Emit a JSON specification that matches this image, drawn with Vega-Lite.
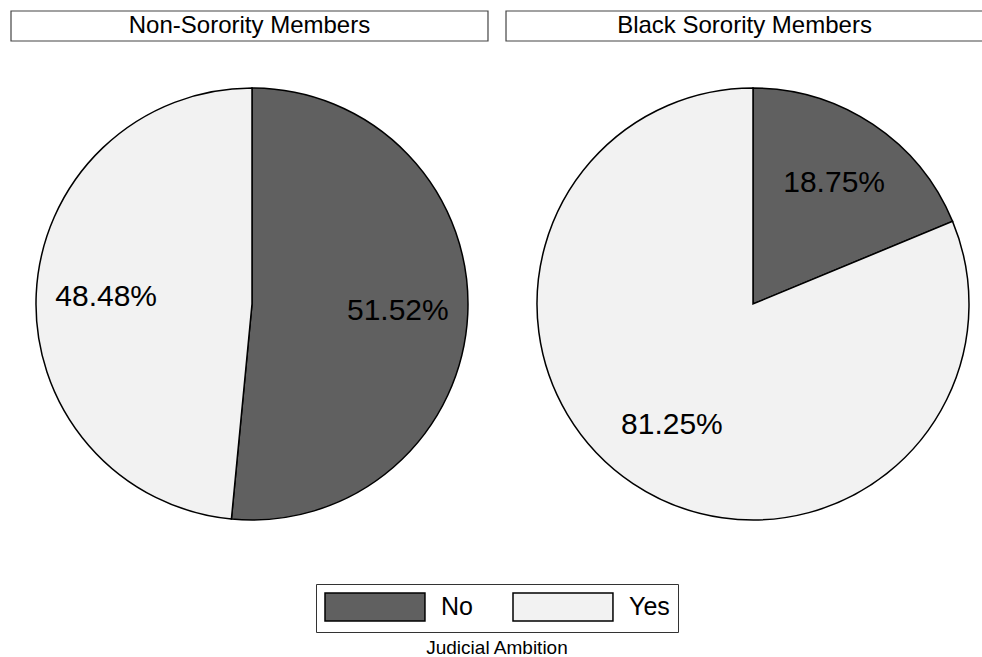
{
  "$schema": "https://vega.github.io/schema/vega-lite/v6.json",
  "padding": {"left": 10, "top": 10, "right": 0, "bottom": 0},
  "background": "white",
  "config": {
    "view": {"stroke": null},
    "font": "Liberation Sans",
    "concat": {"spacing": 0}
  },
  "datasets": {
    "groups": [
      {"group": "Non-Sorority Members"},
      {"group": "Black Sorority Members"}
    ],
    "shares": [
      {"group": "Non-Sorority Members", "answer": "No", "pct": 51.52},
      {"group": "Non-Sorority Members", "answer": "Yes", "pct": 48.48},
      {"group": "Black Sorority Members", "answer": "No", "pct": 18.75},
      {"group": "Black Sorority Members", "answer": "Yes", "pct": 81.25}
    ]
  },
  "title": {
    "text": "Judicial Ambition",
    "orient": "bottom",
    "anchor": "middle",
    "fontSize": 19,
    "fontWeight": "normal",
    "offset": 6,
    "color": "black"
  },
  "vconcat": [
    {
      "data": {"name": "groups"},
      "width": 972,
      "height": 30,
      "encoding": {
        "x": {
          "field": "group",
          "type": "nominal",
          "scale": {
            "domain": ["Non-Sorority Members", "Black Sorority Members"],
            "paddingInner": 0.0364,
            "paddingOuter": 0
          },
          "axis": null
        }
      },
      "layer": [
        {"mark": {"type": "rect", "fill": "white", "stroke": "#444444", "strokeWidth": 1.2}},
        {
          "mark": {"type": "text", "fontSize": 24, "color": "black"},
          "encoding": {"text": {"field": "group"}}
        }
      ]
    },
    {
      "data": {"name": "shares"},
      "width": 972,
      "height": 524,
      "transform": [
        {"stack": "pct", "groupby": ["group"], "sort": [{"field": "answer", "order": "ascending"}], "as": ["t0", "t1"]},
        {"calculate": "(datum.t0 + datum.t1) / 2", "as": "tmid"},
        {"calculate": "format(datum.pct, '.2f') + '%'", "as": "label"}
      ],
      "encoding": {
        "x": {
          "field": "group",
          "type": "nominal",
          "scale": {
            "type": "point",
            "domain": ["Non-Sorority Members", "Black Sorority Members"],
            "range": [241, 742],
            "padding": 0
          },
          "axis": null
        }
      },
      "layer": [
        {
          "mark": {"type": "arc", "outerRadius": 216, "stroke": "black", "strokeWidth": 1.5},
          "encoding": {
            "theta": {"field": "t0", "type": "quantitative", "scale": {"domain": [0, 100]}},
            "theta2": {"field": "t1"},
            "color": {
              "field": "answer",
              "type": "nominal",
              "scale": {"domain": ["No", "Yes"], "range": ["#606060", "#f2f2f2"]},
              "legend": {
                "orient": "none",
                "legendX": 305,
                "legendY": 573,
                "direction": "horizontal",
                "title": null,
                "symbolType": "M-1,-1H6.14V1H-1Z",
                "symbolSize": 784,
                "symbolStrokeColor": "black",
                "symbolStrokeWidth": 1.5,
                "symbolOpacity": 1,
                "labelFontSize": 25,
                "labelColor": "black",
                "labelOffset": 87,
                "columnPadding": 37,
                "padding": 8,
                "strokeColor": "#333333",
                "fillColor": "white"
              }
            }
          }
        },
        {
          "mark": {"type": "text", "radius": 146, "fontSize": 30, "color": "black"},
          "encoding": {
            "theta": {"field": "tmid", "type": "quantitative", "scale": {"domain": [0, 100]}},
            "text": {"field": "label"}
          }
        }
      ]
    }
  ]
}
